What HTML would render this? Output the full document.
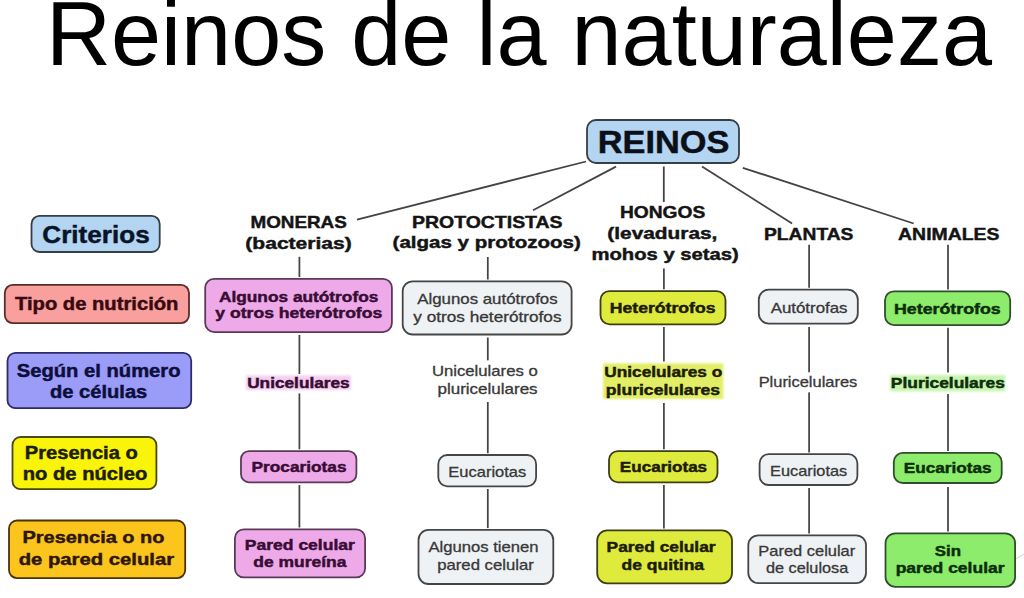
<!DOCTYPE html>
<html><head><meta charset="utf-8"><style>
html,body{margin:0;padding:0;background:#fff;width:1024px;height:598px;overflow:hidden}
svg{display:block}
text{font-family:"Liberation Sans",sans-serif}
</style></head><body>
<svg width="1024" height="598" viewBox="0 0 1024 598">
<defs><filter id="hb" x="-10%" y="-30%" width="120%" height="160%"><feGaussianBlur stdDeviation="1"/></filter></defs>
<rect x="0" y="0" width="1024" height="598" fill="#ffffff"/>
<text x="46.02" y="65.40" font-size="90" font-weight="400" fill="#000000" textLength="945.97" lengthAdjust="spacingAndGlyphs">Reinos de la naturaleza</text>
<line x1="586.00" y1="161.50" x2="357.00" y2="219.60" stroke="#444444" stroke-width="1.8"/>
<line x1="616.00" y1="166.60" x2="533.00" y2="210.30" stroke="#444444" stroke-width="1.8"/>
<line x1="702.00" y1="166.60" x2="792.10" y2="223.50" stroke="#444444" stroke-width="1.8"/>
<line x1="742.80" y1="167.80" x2="913.70" y2="223.50" stroke="#444444" stroke-width="1.8"/>
<line x1="663.80" y1="166.50" x2="663.80" y2="202.00" stroke="#444444" stroke-width="1.8"/>
<line x1="299.40" y1="256.80" x2="299.40" y2="277.00" stroke="#444444" stroke-width="1.75"/>
<line x1="299.40" y1="335.00" x2="299.40" y2="374.00" stroke="#444444" stroke-width="1.75"/>
<line x1="299.40" y1="393.40" x2="299.40" y2="449.30" stroke="#444444" stroke-width="1.75"/>
<line x1="299.40" y1="485.00" x2="299.40" y2="527.50" stroke="#444444" stroke-width="1.75"/>
<line x1="487.80" y1="257.00" x2="487.80" y2="279.50" stroke="#444444" stroke-width="1.75"/>
<line x1="487.80" y1="337.50" x2="487.80" y2="360.60" stroke="#444444" stroke-width="1.75"/>
<line x1="487.80" y1="402.00" x2="487.80" y2="453.20" stroke="#444444" stroke-width="1.75"/>
<line x1="487.80" y1="489.00" x2="487.80" y2="528.10" stroke="#444444" stroke-width="1.75"/>
<line x1="663.90" y1="268.40" x2="663.90" y2="289.30" stroke="#444444" stroke-width="1.75"/>
<line x1="663.90" y1="327.00" x2="663.90" y2="361.50" stroke="#444444" stroke-width="1.75"/>
<line x1="663.90" y1="403.00" x2="663.90" y2="449.30" stroke="#444444" stroke-width="1.75"/>
<line x1="663.90" y1="485.00" x2="663.90" y2="528.60" stroke="#444444" stroke-width="1.75"/>
<line x1="809.10" y1="244.80" x2="809.10" y2="287.80" stroke="#444444" stroke-width="1.75"/>
<line x1="809.10" y1="327.00" x2="809.10" y2="372.60" stroke="#444444" stroke-width="1.75"/>
<line x1="809.10" y1="392.20" x2="809.10" y2="452.40" stroke="#444444" stroke-width="1.75"/>
<line x1="809.10" y1="488.00" x2="809.10" y2="533.50" stroke="#444444" stroke-width="1.75"/>
<line x1="948.00" y1="244.80" x2="948.00" y2="289.50" stroke="#444444" stroke-width="1.75"/>
<line x1="948.00" y1="327.70" x2="948.00" y2="372.60" stroke="#444444" stroke-width="1.75"/>
<line x1="948.00" y1="394.00" x2="948.00" y2="451.10" stroke="#444444" stroke-width="1.75"/>
<line x1="948.00" y1="487.00" x2="948.00" y2="531.50" stroke="#444444" stroke-width="1.75"/>
<line x1="1016.00" y1="559.00" x2="1024.00" y2="554.00" stroke="#dedede" stroke-width="1.2"/>
<rect x="587.00" y="120.00" width="152.00" height="43.00" rx="9" fill="#b3d5f1" stroke="#363e48" stroke-width="1.8"/>
<text x="597.70" y="152.60" font-size="32" font-weight="700" fill="#0a0f18" stroke="#0a0f18" stroke-width="0.45" textLength="131.64" lengthAdjust="spacingAndGlyphs">REINOS</text>
<text x="250.44" y="227.90" font-size="17" font-weight="700" fill="#141414" stroke="#141414" stroke-width="0.45" textLength="96.30" lengthAdjust="spacingAndGlyphs">MONERAS</text>
<text x="245.35" y="249.00" font-size="17" font-weight="700" fill="#141414" stroke="#141414" stroke-width="0.45" textLength="106.40" lengthAdjust="spacingAndGlyphs">(bacterias)</text>
<text x="412.00" y="227.50" font-size="17" font-weight="700" fill="#141414" stroke="#141414" stroke-width="0.45" textLength="150.57" lengthAdjust="spacingAndGlyphs">PROTOCTISTAS</text>
<text x="392.57" y="248.40" font-size="17" font-weight="700" fill="#141414" stroke="#141414" stroke-width="0.45" textLength="188.24" lengthAdjust="spacingAndGlyphs">(algas y protozoos)</text>
<text x="619.96" y="218.40" font-size="17" font-weight="700" fill="#141414" stroke="#141414" stroke-width="0.45" textLength="85.28" lengthAdjust="spacingAndGlyphs">HONGOS</text>
<text x="607.36" y="239.20" font-size="17" font-weight="700" fill="#141414" stroke="#141414" stroke-width="0.45" textLength="110.04" lengthAdjust="spacingAndGlyphs">(levaduras,</text>
<text x="591.46" y="259.80" font-size="17" font-weight="700" fill="#141414" stroke="#141414" stroke-width="0.45" textLength="147.35" lengthAdjust="spacingAndGlyphs">mohos y setas)</text>
<text x="764.01" y="240.10" font-size="17" font-weight="700" fill="#141414" stroke="#141414" stroke-width="0.45" textLength="89.44" lengthAdjust="spacingAndGlyphs">PLANTAS</text>
<text x="898.11" y="240.10" font-size="17" font-weight="700" fill="#141414" stroke="#141414" stroke-width="0.45" textLength="101.35" lengthAdjust="spacingAndGlyphs">ANIMALES</text>
<rect x="31.50" y="215.90" width="128.20" height="36.10" rx="8" fill="#b3d5f1" stroke="#363e48" stroke-width="1.8"/>
<text x="42.33" y="242.60" font-size="24" font-weight="700" fill="#0a1428" stroke="#0a1428" stroke-width="0.45" textLength="107.35" lengthAdjust="spacingAndGlyphs">Criterios</text>
<rect x="4.80" y="284.90" width="184.20" height="38.20" rx="8" fill="#f9a09e" stroke="#5a2c2c" stroke-width="1.8"/>
<text x="14.98" y="309.50" font-size="18" font-weight="700" fill="#380a10" stroke="#380a10" stroke-width="0.45" textLength="163.48" lengthAdjust="spacingAndGlyphs">Tipo de nutrición</text>
<rect x="7.50" y="352.80" width="183.70" height="55.40" rx="8" fill="#9a9cf8" stroke="#2c2c6a" stroke-width="1.8"/>
<text x="16.81" y="377.40" font-size="17.5" font-weight="700" fill="#0e0e3c" stroke="#0e0e3c" stroke-width="0.45" textLength="163.68" lengthAdjust="spacingAndGlyphs">Según el número</text>
<text x="49.97" y="398.30" font-size="17.5" font-weight="700" fill="#0e0e3c" stroke="#0e0e3c" stroke-width="0.45" textLength="97.35" lengthAdjust="spacingAndGlyphs">de células</text>
<rect x="12.50" y="437.00" width="143.90" height="52.20" rx="8" fill="#f9f40a" stroke="#4a4a14" stroke-width="1.8"/>
<text x="24.85" y="459.00" font-size="17.5" font-weight="700" fill="#1e1e04" stroke="#1e1e04" stroke-width="0.45" textLength="112.84" lengthAdjust="spacingAndGlyphs">Presencia o</text>
<text x="22.67" y="480.40" font-size="17.5" font-weight="700" fill="#1e1e04" stroke="#1e1e04" stroke-width="0.45" textLength="124.62" lengthAdjust="spacingAndGlyphs">no de núcleo</text>
<rect x="9.00" y="520.50" width="176.20" height="57.60" rx="8" fill="#fbc51e" stroke="#4a3210" stroke-width="1.8"/>
<text x="22.46" y="543.40" font-size="17" font-weight="700" fill="#2e1606" stroke="#2e1606" stroke-width="0.45" textLength="142.01" lengthAdjust="spacingAndGlyphs">Presencia o no</text>
<text x="18.67" y="564.50" font-size="17" font-weight="700" fill="#2e1606" stroke="#2e1606" stroke-width="0.45" textLength="155.43" lengthAdjust="spacingAndGlyphs">de pared celular</text>
<rect x="205.20" y="278.80" width="186.70" height="53.30" rx="9" fill="#eeaae8" stroke="#5a3a58" stroke-width="1.8"/>
<text x="218.97" y="301.80" font-size="14.2" font-weight="700" fill="#380c34" stroke="#380c34" stroke-width="0.45" textLength="159.34" lengthAdjust="spacingAndGlyphs">Algunos autótrofos</text>
<text x="215.36" y="317.90" font-size="14.2" font-weight="700" fill="#380c34" stroke="#380c34" stroke-width="0.45" textLength="166.86" lengthAdjust="spacingAndGlyphs">y otros heterótrofos</text>
<rect x="246.00" y="375.50" width="105.00" height="14.50" fill="#f3d0ef" filter="url(#hb)"/>
<text x="247.17" y="387.60" font-size="14.2" font-weight="700" fill="#380c34" stroke="#380c34" stroke-width="0.45" textLength="102.55" lengthAdjust="spacingAndGlyphs">Unicelulares</text>
<rect x="241.00" y="451.10" width="115.40" height="31.20" rx="8" fill="#eeaae8" stroke="#5a3a58" stroke-width="1.8"/>
<text x="251.64" y="471.70" font-size="14.2" font-weight="700" fill="#380c34" stroke="#380c34" stroke-width="0.45" textLength="94.87" lengthAdjust="spacingAndGlyphs">Procariotas</text>
<rect x="234.90" y="529.30" width="130.20" height="48.10" rx="9" fill="#eeaae8" stroke="#5a3a58" stroke-width="1.8"/>
<text x="244.83" y="549.60" font-size="14.2" font-weight="700" fill="#380c34" stroke="#380c34" stroke-width="0.45" textLength="110.04" lengthAdjust="spacingAndGlyphs">Pared celular</text>
<text x="253.28" y="567.30" font-size="14.2" font-weight="700" fill="#380c34" stroke="#380c34" stroke-width="0.45" textLength="93.19" lengthAdjust="spacingAndGlyphs">de mureína</text>
<rect x="402.70" y="281.30" width="168.90" height="53.20" rx="10" fill="#eef2f4" stroke="#454545" stroke-width="1.8"/>
<text x="417.27" y="303.60" font-size="14.2" font-weight="400" fill="#383838" stroke="#383838" stroke-width="0.3" textLength="140.34" lengthAdjust="spacingAndGlyphs">Algunos autótrofos</text>
<text x="413.35" y="321.80" font-size="14.2" font-weight="400" fill="#383838" stroke="#383838" stroke-width="0.3" textLength="148.18" lengthAdjust="spacingAndGlyphs">y otros heterótrofos</text>
<rect x="425.00" y="360.60" width="120.00" height="41.40" fill="#ffffff"/>
<text x="431.91" y="376.30" font-size="14.2" font-weight="400" fill="#383838" stroke="#383838" stroke-width="0.3" textLength="105.79" lengthAdjust="spacingAndGlyphs">Unicelulares o</text>
<text x="437.51" y="393.80" font-size="14.2" font-weight="400" fill="#383838" stroke="#383838" stroke-width="0.3" textLength="100.09" lengthAdjust="spacingAndGlyphs">pluricelulares</text>
<rect x="438.30" y="455.00" width="97.80" height="31.30" rx="9" fill="#eef2f4" stroke="#454545" stroke-width="1.8"/>
<text x="448.35" y="476.50" font-size="14.2" font-weight="400" fill="#383838" stroke="#383838" stroke-width="0.3" textLength="77.84" lengthAdjust="spacingAndGlyphs">Eucariotas</text>
<rect x="418.50" y="529.90" width="134.80" height="54.10" rx="10" fill="#eef2f4" stroke="#454545" stroke-width="1.8"/>
<text x="428.47" y="552.30" font-size="14.2" font-weight="400" fill="#383838" stroke="#383838" stroke-width="0.3" textLength="110.12" lengthAdjust="spacingAndGlyphs">Algunos tienen</text>
<text x="437.23" y="570.30" font-size="14.2" font-weight="400" fill="#383838" stroke="#383838" stroke-width="0.3" textLength="96.54" lengthAdjust="spacingAndGlyphs">pared celular</text>
<rect x="600.50" y="291.10" width="125.00" height="33.20" rx="9" fill="#dfeb3c" stroke="#3e3e16" stroke-width="1.8"/>
<text x="609.82" y="313.40" font-size="14.2" font-weight="700" fill="#1c1c08" stroke="#1c1c08" stroke-width="0.45" textLength="105.71" lengthAdjust="spacingAndGlyphs">Heterótrofos</text>
<rect x="603.00" y="363.40" width="120.30" height="35.60" fill="#e2ee66" filter="url(#hb)"/>
<text x="604.26" y="377.00" font-size="14.2" font-weight="700" fill="#1c1c08" stroke="#1c1c08" stroke-width="0.45" textLength="118.01" lengthAdjust="spacingAndGlyphs">Unicelulares o</text>
<text x="605.84" y="395.00" font-size="14.2" font-weight="700" fill="#1c1c08" stroke="#1c1c08" stroke-width="0.45" textLength="114.18" lengthAdjust="spacingAndGlyphs">pluricelulares</text>
<rect x="609.00" y="451.10" width="108.50" height="31.20" rx="9" fill="#dfeb3c" stroke="#3e3e16" stroke-width="1.8"/>
<text x="619.86" y="471.70" font-size="14.2" font-weight="700" fill="#1c1c08" stroke="#1c1c08" stroke-width="0.45" textLength="87.25" lengthAdjust="spacingAndGlyphs">Eucariotas</text>
<rect x="597.20" y="530.40" width="134.80" height="52.90" rx="10" fill="#dfeb3c" stroke="#3e3e16" stroke-width="1.8"/>
<text x="606.64" y="552.30" font-size="14.2" font-weight="700" fill="#1c1c08" stroke="#1c1c08" stroke-width="0.45" textLength="108.93" lengthAdjust="spacingAndGlyphs">Pared celular</text>
<text x="621.58" y="570.00" font-size="14.2" font-weight="700" fill="#1c1c08" stroke="#1c1c08" stroke-width="0.45" textLength="82.50" lengthAdjust="spacingAndGlyphs">de quitina</text>
<rect x="758.80" y="289.60" width="99.00" height="34.00" rx="10" fill="#eef2f4" stroke="#454545" stroke-width="1.8"/>
<text x="770.67" y="312.90" font-size="14.2" font-weight="400" fill="#383838" stroke="#383838" stroke-width="0.3" textLength="76.84" lengthAdjust="spacingAndGlyphs">Autótrofas</text>
<rect x="755.00" y="372.60" width="107.00" height="19.60" fill="#ffffff"/>
<text x="758.65" y="387.20" font-size="14.2" font-weight="400" fill="#383838" stroke="#383838" stroke-width="0.3" textLength="98.63" lengthAdjust="spacingAndGlyphs">Pluricelulares</text>
<rect x="759.60" y="454.20" width="97.80" height="30.80" rx="9" fill="#eef2f4" stroke="#454545" stroke-width="1.8"/>
<text x="770.06" y="475.50" font-size="14.2" font-weight="400" fill="#383838" stroke="#383838" stroke-width="0.3" textLength="77.12" lengthAdjust="spacingAndGlyphs">Eucariotas</text>
<rect x="748.30" y="535.30" width="117.70" height="47.80" rx="10" fill="#eef2f4" stroke="#454545" stroke-width="1.8"/>
<text x="758.35" y="556.00" font-size="14.2" font-weight="400" fill="#383838" stroke="#383838" stroke-width="0.3" textLength="96.91" lengthAdjust="spacingAndGlyphs">Pared celular</text>
<text x="766.02" y="573.20" font-size="14.2" font-weight="400" fill="#383838" stroke="#383838" stroke-width="0.3" textLength="82.18" lengthAdjust="spacingAndGlyphs">de celulosa</text>
<rect x="885.00" y="291.30" width="125.20" height="33.80" rx="9" fill="#8eec6c" stroke="#2e4e2e" stroke-width="1.8"/>
<text x="894.01" y="314.20" font-size="14.2" font-weight="700" fill="#0c2e0c" stroke="#0c2e0c" stroke-width="0.45" textLength="106.73" lengthAdjust="spacingAndGlyphs">Heterótrofos</text>
<rect x="890.00" y="375.00" width="115.40" height="16.40" fill="#c8f4b0" filter="url(#hb)"/>
<text x="890.83" y="388.20" font-size="14.2" font-weight="700" fill="#0c2e0c" stroke="#0c2e0c" stroke-width="0.45" textLength="114.08" lengthAdjust="spacingAndGlyphs">Pluricelulares</text>
<rect x="893.80" y="452.90" width="107.90" height="30.10" rx="9" fill="#8eec6c" stroke="#2e4e2e" stroke-width="1.8"/>
<text x="903.85" y="473.00" font-size="14.2" font-weight="700" fill="#0c2e0c" stroke="#0c2e0c" stroke-width="0.45" textLength="87.76" lengthAdjust="spacingAndGlyphs">Eucariotas</text>
<rect x="885.50" y="533.30" width="129.60" height="53.60" rx="10" fill="#8eec6c" stroke="#2e4e2e" stroke-width="1.8"/>
<text x="934.71" y="555.50" font-size="14.2" font-weight="700" fill="#0c2e0c" stroke="#0c2e0c" stroke-width="0.45" textLength="26.23" lengthAdjust="spacingAndGlyphs">Sin</text>
<text x="895.65" y="572.70" font-size="14.2" font-weight="700" fill="#0c2e0c" stroke="#0c2e0c" stroke-width="0.45" textLength="108.92" lengthAdjust="spacingAndGlyphs">pared celular</text>
</svg>
</body></html>
